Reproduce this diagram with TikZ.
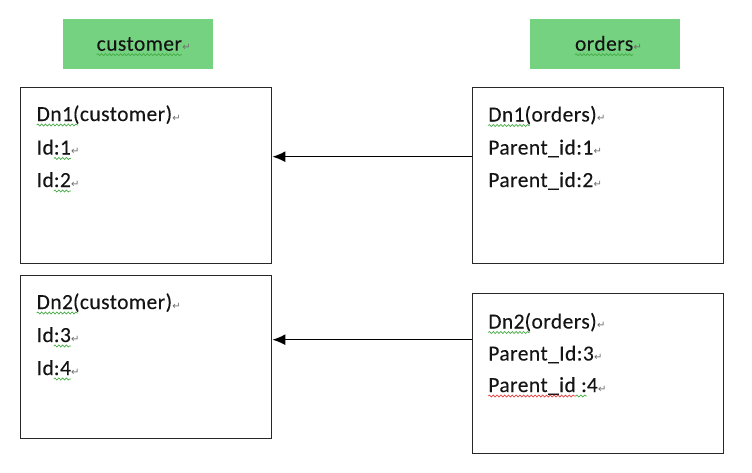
\documentclass[tikz,border=0pt]{standalone}
\usepackage{fontspec}
\setmainfont{Carlito}[LetterSpace=2,FakeBold=0.15]
\newfontfamily\pmfont{DejaVu Sans}
\usetikzlibrary{arrows.meta,decorations.pathmorphing}
\definecolor{greenfill}{RGB}{117,210,128}
\definecolor{boxcol}{RGB}{40,40,40}
\definecolor{txtcol}{RGB}{20,20,20}
\definecolor{wavyg}{RGB}{70,170,70}
\definecolor{wavyr}{RGB}{230,60,60}
\definecolor{pmcol}{RGB}{110,110,110}
\tikzset{
  t/.style={font=\fontsize{21.5}{25}\selectfont, text=txtcol, inner sep=0pt, outer sep=0pt, anchor=base west},
  pm/.style={font=\pmfont\fontsize{10}{11}\selectfont, text=pmcol, inner sep=0pt, outer sep=0pt, anchor=base west, xshift=0.3pt},
  tbl/.style={draw=boxcol, line width=1.4pt, anchor=north west, inner sep=0pt},
  hdr/.style={fill=greenfill, anchor=north west, inner sep=0pt, minimum width=150pt, minimum height=50pt},
  arr/.style={draw=black, line width=1.3pt, -{Latex[length=13pt,width=11pt]}},
  wg/.style={draw=wavyg, line width=0.7pt, decorate, decoration={snake, segment length=3.8pt, amplitude=1pt}},
  wr/.style={draw=wavyr, line width=0.7pt, decorate, decoration={snake, segment length=3.8pt, amplitude=1pt}},
}
\begin{document}
\begin{tikzpicture}[x=1pt,y=-1pt]
\useasboundingbox (0,0) rectangle (752,472);
% headers
\node[hdr] (hc) at (63,19) {};
\node[hdr] (ho) at (529.3,19) {};
\node[t] (hct) at (96.7,50.7) {customer};
\node[pm] (hcp) at (hct.base east) {↵};
\node[t] (hot) at (575,50.7) {orders};
\node[pm] (hop) at (hot.base east) {↵};
\draw[wg] ([yshift=-4pt]hct.base west) -- ([yshift=-4pt]hct.base east);
\draw[wg] ([yshift=-4pt]hot.base west) -- ([yshift=-4pt]hot.base east);
% boxes
\node[tbl, minimum width=251pt, minimum height=176pt] (c1) at (20,87) {};
\node[tbl, minimum width=251pt, minimum height=163pt] (c2) at (20,275) {};
\node[tbl, minimum width=250.7pt, minimum height=176pt] (o1) at (472,87) {};
\node[tbl, minimum width=250.7pt, minimum height=160pt] (o2) at (472,293) {};
% customer Dn1
\node[t] (c1a) at (36.7,121) {Dn1};
\node[t] (c1b) at (c1a.base east) {(customer)};
\node[pm] (c1p1) at (c1b.base east) {↵};
\node[t] (c1c) at (36.7,154.5) {Id};
\node[t] (c1d) at (c1c.base east) {:1};
\node[pm] (c1p2) at (c1d.base east) {↵};
\node[t] (c1e) at (36.7,187) {Id};
\node[t] (c1f) at (c1e.base east) {:2};
\node[pm] (c1p3) at (c1f.base east) {↵};
\draw[wg] ([yshift=-4pt]c1a.base west) -- ([yshift=-4pt,xshift=5pt]c1a.base east);
\draw[wg] ([yshift=-4pt]c1d.base west) -- ([yshift=-4pt]c1d.base east);
\draw[wg] ([yshift=-4pt]c1f.base west) -- ([yshift=-4pt]c1f.base east);
% customer Dn2
\node[t] (c2a) at (36.7,309) {Dn2};
\node[t] (c2b) at (c2a.base east) {(customer)};
\node[pm] (c2p1) at (c2b.base east) {↵};
\node[t] (c2c) at (36.7,342) {Id};
\node[t] (c2d) at (c2c.base east) {:3};
\node[pm] (c2p2) at (c2d.base east) {↵};
\node[t] (c2e) at (36.7,375) {Id};
\node[t] (c2f) at (c2e.base east) {:4};
\node[pm] (c2p3) at (c2f.base east) {↵};
\draw[wg] ([yshift=-4pt]c2a.base west) -- ([yshift=-4pt,xshift=5pt]c2a.base east);
\draw[wg] ([yshift=-4pt]c2d.base west) -- ([yshift=-4pt]c2d.base east);
\draw[wg] ([yshift=-4pt]c2f.base west) -- ([yshift=-4pt]c2f.base east);
% orders Dn1
\node[t] (o1a) at (488.3,121.5) {Dn1};
\node[t] (o1b) at (o1a.base east) {(orders)};
\node[pm] (o1p1) at (o1b.base east) {↵};
\node[t] (o1c) at (488.3,154.5) {Parent\_id:1};
\node[pm] (o1p2) at (o1c.base east) {↵};
\node[t] (o1e) at (488.3,187) {Parent\_id:2};
\node[pm] (o1p3) at (o1e.base east) {↵};
\draw[wg] ([yshift=-4pt]o1a.base west) -- ([yshift=-4pt,xshift=5pt]o1a.base east);
% orders Dn2
\node[t] (o2a) at (488.3,328.5) {Dn2};
\node[t] (o2b) at (o2a.base east) {(orders)};
\node[pm] (o2p1) at (o2b.base east) {↵};
\node[t] (o2c) at (488.3,360.5) {Parent\_Id:3};
\node[pm] (o2p2) at (o2c.base east) {↵};
\node[t] (o2e) at (488.3,392) {Parent\_id};
\node[t] (o2f) at (o2e.base east) {\ :};
\node[t] (o2g) at (o2f.base east) {4};
\node[pm] (o2p3) at (o2g.base east) {↵};
\draw[wg] ([yshift=-4pt]o2a.base west) -- ([yshift=-4pt,xshift=5pt]o2a.base east);
\draw[wr] ([yshift=-4pt]o2e.base west) -- ([yshift=-4pt]o2e.base east);
\draw[wg] ([yshift=-4pt]o2f.base west) -- ([yshift=-4pt]o2f.base east);
% arrows
\coordinate (a1) at ([yshift=19pt]o1.west);
\coordinate (a2) at ([yshift=34pt]o2.west);
\draw[arr] (a1) -- (a1 -| c1.east);
\draw[arr] (a2) -- (a2 -| c2.east);
\end{tikzpicture}
\end{document}
